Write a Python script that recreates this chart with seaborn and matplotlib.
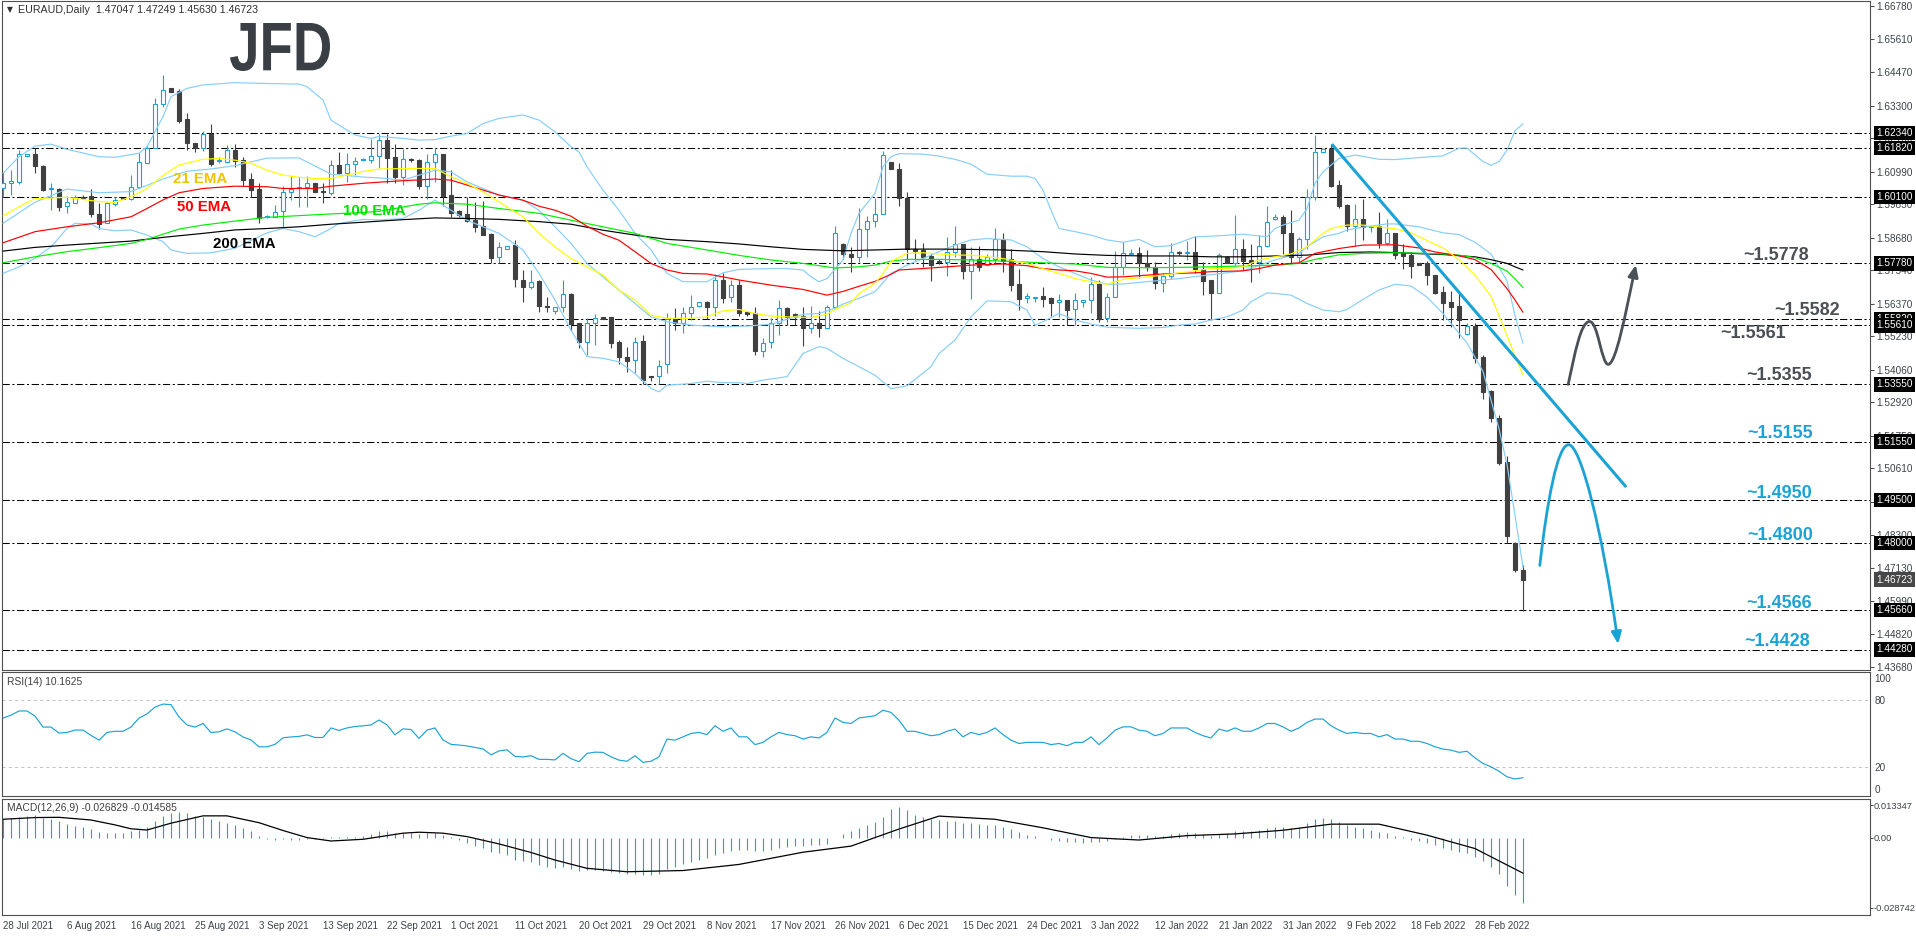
import numpy as np
import matplotlib
matplotlib.use("Agg")
import matplotlib.pyplot as plt
import matplotlib.transforms as mtransforms
from matplotlib.path import Path
from matplotlib.patches import FancyArrowPatch, PathPatch
from matplotlib.textpath import TextPath
from matplotlib.font_manager import FontProperties
import seaborn as sns

# EURAUD daily candles, 28 Jul 2021 .. 7 Mar 2022 (broker feed with Sunday bars)
opens = [1.6043, 1.6058, 1.6064, 1.6154, 1.6159, 1.6118, 1.6037, 1.6039, 1.5979, 1.5990,
         1.6011, 1.6013, 1.5951, 1.5918, 1.5984, 1.6005, 1.6002, 1.6046, 1.6130, 1.6180,
         1.6334, 1.6390, 1.6381, 1.6282, 1.6199, 1.6180, 1.6231, 1.6136, 1.6134, 1.6174,
         1.6139, 1.6073, 1.6038, 1.5940, 1.5941, 1.5961, 1.6029, 1.6040, 1.6046, 1.6058,
         1.6031, 1.6025, 1.6121, 1.6095, 1.6124, 1.6139, 1.6141, 1.6153, 1.6209, 1.6149,
         1.6081, 1.6140, 1.6139, 1.6049, 1.6133, 1.6160, 1.6017, 1.5962, 1.5950, 1.5929,
         1.5908, 1.5880, 1.5799, 1.5827, 1.5842, 1.5720, 1.5694, 1.5716, 1.5630, 1.5612,
         1.5624, 1.5671, 1.5570, 1.5504, 1.5568, 1.5589, 1.5589, 1.5502, 1.5450, 1.5440,
         1.5506, 1.5383, 1.5384, 1.5426, 1.5582, 1.5570, 1.5603, 1.5629, 1.5642, 1.5626,
         1.5720, 1.5659, 1.5702, 1.5607, 1.5603, 1.5473, 1.5502, 1.5570, 1.5621, 1.5600,
         1.5594, 1.5553, 1.5568, 1.5553, 1.5624, 1.5846, 1.5811, 1.5801, 1.5900, 1.5925,
         1.5949, 1.6132, 1.6108, 1.6008, 1.5827, 1.5825, 1.5804, 1.5785, 1.5784, 1.5819,
         1.5846, 1.5752, 1.5792, 1.5773, 1.5795, 1.5863, 1.5792, 1.5706, 1.5656, 1.5656,
         1.5664, 1.5656, 1.5642, 1.5650, 1.5617, 1.5642, 1.5650, 1.5706, 1.5586, 1.5661,
         1.5766, 1.5811, 1.5813, 1.5778, 1.5764, 1.5708, 1.5734, 1.5816, 1.5813, 1.5819,
         1.5760, 1.5720, 1.5675, 1.5799, 1.5778, 1.5827, 1.5790, 1.5784, 1.5840, 1.5932,
         1.5939, 1.5886, 1.5801, 1.5865, 1.6009, 1.6168, 1.6177, 1.6052, 1.5982, 1.5910,
         1.5933, 1.5904, 1.5908, 1.5850, 1.5883, 1.5814, 1.5809, 1.5780, 1.5778, 1.5737,
         1.5677, 1.5642, 1.5629, 1.5530, 1.5559, 1.5452, 1.5333, 1.5236, 1.5085, 1.4800,
         1.47047]
highs = [1.6099, 1.6104, 1.6174, 1.6162, 1.6182, 1.6121, 1.6058, 1.6043, 1.6014, 1.6017,
         1.6017, 1.6037, 1.5990, 1.5994, 1.6011, 1.6008, 1.6087, 1.6165, 1.6192, 1.6355,
         1.6437, 1.6390, 1.6388, 1.6303, 1.6199, 1.6242, 1.6265, 1.6149, 1.6192, 1.6195,
         1.6149, 1.6093, 1.6060, 1.5947, 1.5982, 1.6050, 1.6085, 1.6079, 1.6083, 1.6058,
         1.6058, 1.6139, 1.6168, 1.6165, 1.6151, 1.6145, 1.6212, 1.6232, 1.6229, 1.6197,
         1.6177, 1.6145, 1.6142, 1.6162, 1.6180, 1.6162, 1.6104, 1.5964, 1.6009, 1.5991,
         1.5996, 1.5883, 1.5854, 1.5840, 1.5859, 1.5754, 1.5754, 1.5720, 1.5661, 1.5624,
         1.5720, 1.5673, 1.5570, 1.5586, 1.5600, 1.5591, 1.5591, 1.5510, 1.5484, 1.5519,
         1.5527, 1.5383, 1.5440, 1.5603, 1.5621, 1.5626, 1.5667, 1.5642, 1.5646, 1.5741,
         1.5743, 1.5720, 1.5720, 1.5607, 1.5624, 1.5516, 1.5586, 1.5650, 1.5626, 1.5603,
         1.5626, 1.5629, 1.5612, 1.5632, 1.5908, 1.5850, 1.5836, 1.5973, 1.5943, 1.6008,
         1.6172, 1.6132, 1.6128, 1.6028, 1.5862, 1.5850, 1.5813, 1.5792, 1.5871, 1.5908,
         1.5846, 1.5836, 1.5838, 1.5811, 1.5903, 1.5885, 1.5830, 1.5757, 1.5675, 1.5661,
         1.5694, 1.5661, 1.5671, 1.5650, 1.5675, 1.5650, 1.5729, 1.5720, 1.5675, 1.5822,
         1.5854, 1.5830, 1.5836, 1.5825, 1.5784, 1.5743, 1.5848, 1.5822, 1.5856, 1.5873,
         1.5784, 1.5720, 1.5813, 1.5804, 1.5947, 1.5865, 1.5845, 1.5877, 1.5978, 1.5949,
         1.5947, 1.5964, 1.5871, 1.6037, 1.6227, 1.6177, 1.6197, 1.6069, 1.5984, 1.5984,
         1.6003, 1.5912, 1.5959, 1.5932, 1.5886, 1.5845, 1.5818, 1.5780, 1.5787, 1.5737,
         1.5699, 1.5682, 1.5676, 1.5571, 1.5571, 1.5458, 1.5335, 1.5248, 1.5105, 1.4805,
         1.47249]
lows = [1.6011, 1.6017, 1.6055, 1.6151, 1.6095, 1.6032, 1.5965, 1.5962, 1.5953, 1.5988,
        1.6005, 1.5941, 1.5900, 1.5918, 1.5979, 1.6002, 1.6000, 1.6040, 1.6128, 1.6180,
        1.6326, 1.6378, 1.6270, 1.6174, 1.6168, 1.6172, 1.6118, 1.6128, 1.6128, 1.6114,
        1.6048, 1.6009, 1.5920, 1.5938, 1.5941, 1.5906, 1.6000, 1.5976, 1.5974, 1.6029,
        1.5990, 1.6017, 1.6093, 1.6064, 1.6087, 1.6137, 1.6130, 1.6110, 1.6058, 1.6058,
        1.6052, 1.6132, 1.6037, 1.6002, 1.6063, 1.5978, 1.5939, 1.5939, 1.5924, 1.5889,
        1.5877, 1.5778, 1.5778, 1.5827, 1.5694, 1.5644, 1.5687, 1.5609, 1.5609, 1.5601,
        1.5609, 1.5543, 1.5481, 1.5457, 1.5492, 1.5582, 1.5481, 1.5428, 1.5399, 1.5396,
        1.5356, 1.5368, 1.5356, 1.5396, 1.5545, 1.5533, 1.5580, 1.5624, 1.5582, 1.5594,
        1.5638, 1.5644, 1.5594, 1.5594, 1.5457, 1.5449, 1.5481, 1.5527, 1.5562, 1.5562,
        1.5489, 1.5533, 1.5522, 1.5551, 1.5617, 1.5795, 1.5749, 1.5784, 1.5799, 1.5906,
        1.5949, 1.6107, 1.5978, 1.5790, 1.5790, 1.5766, 1.5717, 1.5776, 1.5735, 1.5799,
        1.5723, 1.5653, 1.5752, 1.5773, 1.5778, 1.5749, 1.5682, 1.5615, 1.5638, 1.5644,
        1.5626, 1.5594, 1.5591, 1.5561, 1.5561, 1.5626, 1.5605, 1.5574, 1.5574, 1.5659,
        1.5737, 1.5807, 1.5728, 1.5752, 1.5690, 1.5679, 1.5725, 1.5807, 1.5790, 1.5745,
        1.5667, 1.5580, 1.5673, 1.5778, 1.5772, 1.5755, 1.5714, 1.5743, 1.5836, 1.5929,
        1.5811, 1.5776, 1.5778, 1.5830, 1.5999, 1.6168, 1.6044, 1.5970, 1.5891, 1.5839,
        1.5859, 1.5889, 1.5833, 1.5842, 1.5792, 1.5758, 1.5728, 1.5771, 1.5704, 1.5670,
        1.5580, 1.5554, 1.5516, 1.5528, 1.5431, 1.5303, 1.5225, 1.5073, 1.4799, 1.4700,
        1.45630]
closes = [1.6058, 1.6065, 1.6159, 1.6159, 1.6120, 1.6035, 1.6039, 1.5976, 1.5991, 1.6011,
          1.6008, 1.5949, 1.5916, 1.5988, 1.5998, 1.6002, 1.6046, 1.6131, 1.6180, 1.6334,
          1.6386, 1.6379, 1.6276, 1.6198, 1.6180, 1.6230, 1.6127, 1.6138, 1.6174, 1.6137,
          1.6069, 1.6035, 1.5938, 1.5942, 1.5959, 1.6029, 1.6039, 1.6046, 1.6060, 1.6029,
          1.6026, 1.6121, 1.6095, 1.6124, 1.6135, 1.6143, 1.6154, 1.6209, 1.6147, 1.6081,
          1.6142, 1.6138, 1.6048, 1.6133, 1.6160, 1.6013, 1.5955, 1.5947, 1.5927, 1.5906,
          1.5877, 1.5798, 1.5834, 1.5840, 1.5722, 1.5696, 1.5714, 1.5630, 1.5626, 1.5624,
          1.5671, 1.5566, 1.5504, 1.5568, 1.5586, 1.5585, 1.5501, 1.5449, 1.5438, 1.5504,
          1.5372, 1.5380, 1.5420, 1.5582, 1.5570, 1.5603, 1.5626, 1.5642, 1.5624, 1.5720,
          1.5656, 1.5702, 1.5603, 1.5601, 1.5473, 1.5501, 1.5570, 1.5621, 1.5591, 1.5591,
          1.5553, 1.5568, 1.5553, 1.5624, 1.5883, 1.5811, 1.5801, 1.5900, 1.5925, 1.5949,
          1.6157, 1.6107, 1.6005, 1.5827, 1.5823, 1.5801, 1.5772, 1.5783, 1.5819, 1.5846,
          1.5752, 1.5792, 1.5766, 1.5799, 1.5863, 1.5787, 1.5704, 1.5653, 1.5665, 1.5661,
          1.5654, 1.5640, 1.5650, 1.5615, 1.5650, 1.5650, 1.5706, 1.5583, 1.5661, 1.5766,
          1.5816, 1.5816, 1.5778, 1.5764, 1.5708, 1.5734, 1.5819, 1.5813, 1.5819, 1.5760,
          1.5717, 1.5675, 1.5809, 1.5778, 1.5827, 1.5787, 1.5784, 1.5840, 1.5924, 1.5939,
          1.5885, 1.5801, 1.5865, 1.6009, 1.6168, 1.6177, 1.6048, 1.5978, 1.5910, 1.5932,
          1.5906, 1.5906, 1.5850, 1.5883, 1.5809, 1.5805, 1.5768, 1.5774, 1.5737, 1.5673,
          1.5641, 1.5627, 1.5580, 1.5559, 1.5448, 1.5330, 1.5236, 1.5081, 1.4825, 1.4706,
          1.46723]

# moving averages and Bollinger bands at bar positions
ema21_idx = [0, 2, 4, 8, 12, 14, 16, 18, 20, 22, 25, 27, 29, 31, 33, 35, 37, 39, 41, 43, 45, 47, 51, 54,
             56, 58, 60, 62, 65, 67, 69, 71, 73, 75, 77, 79, 81, 83, 86, 88, 90, 92, 94, 96, 98, 101, 103,
             104, 106, 107, 109, 110, 111, 113, 115, 117, 119, 121, 123, 125, 128, 130, 132, 134, 136, 138,
             140, 143, 145, 147, 149, 151, 153, 155, 157, 159, 161, 163, 165, 166, 168, 170, 172, 174, 176,
             178, 180, 182, 184, 186, 187, 188, 189, 190]
ema21_val = [1.5944, 1.5976, 1.6005, 1.6009, 1.5994, 1.5991, 1.6011, 1.6040, 1.6085, 1.6122, 1.6142, 1.6145,
             1.6139, 1.6128, 1.6104, 1.6087, 1.6079, 1.6075, 1.6075, 1.6087, 1.6099, 1.6108, 1.6110, 1.6110,
             1.6081, 1.6058, 1.6028, 1.5993, 1.5941, 1.5883, 1.5836, 1.5795, 1.5766, 1.5737, 1.5685, 1.5650,
             1.5597, 1.5586, 1.5586, 1.5591, 1.5612, 1.5617, 1.5603, 1.5594, 1.5591, 1.5589, 1.5600, 1.5617,
             1.5640, 1.5673, 1.5708, 1.5743, 1.5785, 1.5813, 1.5815, 1.5811, 1.5807, 1.5807, 1.5801, 1.5795,
             1.5778, 1.5760, 1.5743, 1.5725, 1.5714, 1.5705, 1.5722, 1.5731, 1.5737, 1.5745, 1.5752, 1.5760,
             1.5760, 1.5766, 1.5790, 1.5801, 1.5811, 1.5836, 1.5883, 1.5900, 1.5912, 1.5912, 1.5906, 1.5899,
             1.5885, 1.5858, 1.5832, 1.5791, 1.5737, 1.5663, 1.5596, 1.5525, 1.5455, 1.5388]
ema50_idx = [0, 4, 8, 12, 16, 18, 20, 22, 25, 29, 33, 35, 39, 41, 45, 47, 50, 54, 56, 58, 62, 65, 67, 69,
             71, 73, 75, 77, 79, 81, 83, 85, 88, 90, 92, 96, 100, 103, 105, 107, 109, 111, 112, 115, 117, 121,
             125, 128, 130, 132, 134, 136, 138, 140, 143, 145, 147, 149, 151, 155, 157, 159, 161, 162, 164,
             167, 170, 174, 177, 179, 182, 184, 186, 188, 189, 190]
ema50_val = [1.5850, 1.5889, 1.5906, 1.5920, 1.5941, 1.5970, 1.6000, 1.6025, 1.6040, 1.6048, 1.6046, 1.6040,
             1.6040, 1.6048, 1.6058, 1.6062, 1.6067, 1.6073, 1.6069, 1.6052, 1.6017, 1.5999, 1.5978, 1.5964,
             1.5943, 1.5908, 1.5880, 1.5859, 1.5819, 1.5778, 1.5755, 1.5743, 1.5741, 1.5731, 1.5720, 1.5702,
             1.5687, 1.5667, 1.5680, 1.5698, 1.5715, 1.5740, 1.5755, 1.5760, 1.5764, 1.5772, 1.5776, 1.5770,
             1.5760, 1.5755, 1.5752, 1.5743, 1.5730, 1.5731, 1.5737, 1.5741, 1.5743, 1.5745, 1.5749, 1.5752,
             1.5760, 1.5772, 1.5778, 1.5780, 1.5813, 1.5830, 1.5842, 1.5843, 1.5832, 1.5818, 1.5805, 1.5791,
             1.5757, 1.5690, 1.5650, 1.5607]
ema100_idx = [0, 4, 8, 12, 16, 18, 20, 22, 25, 29, 33, 37, 41, 45, 47, 50, 52, 54, 58, 62, 67, 71, 75, 79,
              83, 88, 92, 96, 100, 104, 107, 109, 111, 113, 117, 121, 125, 130, 134, 138, 143, 147, 151, 155,
              159, 162, 164, 167, 170, 174, 177, 180, 182, 184, 186, 188, 189, 190]
ema100_val = [1.5780, 1.5801, 1.5819, 1.5833, 1.5848, 1.5862, 1.5880, 1.5898, 1.5912, 1.5926, 1.5939, 1.5945,
              1.5951, 1.5956, 1.5960, 1.5975, 1.5985, 1.5990, 1.5985, 1.5970, 1.5953, 1.5929, 1.5906, 1.5883,
              1.5848, 1.5825, 1.5806, 1.5790, 1.5778, 1.5762, 1.5766, 1.5772, 1.5786, 1.5792, 1.5792, 1.5790,
              1.5786, 1.5780, 1.5776, 1.5764, 1.5763, 1.5764, 1.5766, 1.5769, 1.5772, 1.5778, 1.5792, 1.5808,
              1.5813, 1.5815, 1.5814, 1.5811, 1.5807, 1.5798, 1.5778, 1.5751, 1.5724, 1.5693]
ema200_idx = [0, 4, 8, 12, 16, 20, 25, 29, 33, 37, 41, 45, 50, 54, 58, 62, 67, 71, 75, 79, 83, 88, 92, 96,
              100, 105, 109, 113, 117, 121, 125, 130, 134, 138, 143, 147, 151, 155, 159, 163, 167, 171, 174,
              177, 180, 182, 184, 186, 188, 189, 190]
ema200_val = [1.5821, 1.5834, 1.5842, 1.5849, 1.5856, 1.5869, 1.5883, 1.5895, 1.5900, 1.5906, 1.5915, 1.5922,
              1.5931, 1.5937, 1.5935, 1.5932, 1.5924, 1.5915, 1.5894, 1.5877, 1.5862, 1.5854, 1.5846, 1.5836,
              1.5827, 1.5822, 1.5825, 1.5828, 1.5828, 1.5827, 1.5825, 1.5819, 1.5811, 1.5806, 1.5804, 1.5804,
              1.5801, 1.5801, 1.5804, 1.5807, 1.5816, 1.5818, 1.5816, 1.5812, 1.5809, 1.5805, 1.5801, 1.5791,
              1.5778, 1.5766, 1.5755]
bb_up_idx = [0, 2, 4, 6, 8, 12, 14, 17, 18, 20, 21, 23, 25, 29, 33, 37, 38, 40, 41, 43, 44, 46, 47, 50, 52,
             54, 56, 58, 60, 62, 65, 67, 69, 71, 72, 73, 75, 77, 79, 81, 83, 85, 88, 90, 92, 96, 98, 100, 101,
             102, 103, 105, 106, 107, 109, 110, 111, 112, 115, 117, 119, 121, 123, 126, 128, 129, 130, 131,
             132, 134, 136, 138, 140, 142, 144, 146, 147, 149, 151, 155, 158, 159, 160, 162, 163, 164, 165,
             167, 169, 172, 174, 177, 180, 182, 183, 185, 186, 187, 188, 189, 190]
bb_up_val = [1.6093, 1.6151, 1.6188, 1.6195, 1.6177, 1.6151, 1.6149, 1.6163, 1.6186, 1.6291, 1.6361, 1.6390,
             1.6402, 1.6410, 1.6407, 1.6405, 1.6396, 1.6349, 1.6279, 1.6244, 1.6227, 1.6215, 1.6222, 1.6215,
             1.6209, 1.6211, 1.6223, 1.6232, 1.6267, 1.6285, 1.6297, 1.6279, 1.6238, 1.6186, 1.6168, 1.6116,
             1.6034, 1.5964, 1.5883, 1.5825, 1.5743, 1.5714, 1.5714, 1.5745, 1.5757, 1.5760, 1.5760, 1.5755,
             1.5731, 1.5714, 1.5725, 1.5790, 1.5883, 1.5953, 1.6023, 1.6116, 1.6151, 1.6162, 1.6160, 1.6153,
             1.6142, 1.6125, 1.6090, 1.6083, 1.6083, 1.6075, 1.6034, 1.5964, 1.5900, 1.5889, 1.5877, 1.5860,
             1.5852, 1.5862, 1.5836, 1.5840, 1.5850, 1.5871, 1.5873, 1.5880, 1.5871, 1.5900, 1.5912, 1.5929,
             1.5970, 1.6058, 1.6098, 1.6145, 1.6157, 1.6142, 1.6141, 1.6148, 1.6154, 1.6181, 1.6181, 1.6134,
             1.6121, 1.6134, 1.6174, 1.6242, 1.6266]
bb_mid_idx = [0, 4, 8, 12, 16, 20, 23, 26, 29, 33, 37, 41, 45, 47, 50, 54, 56, 58, 60, 62, 65, 67, 69, 71,
              73, 75, 77, 79, 81, 83, 86, 90, 93, 96, 100, 102, 104, 105, 107, 109, 111, 113, 115, 117, 119,
              121, 123, 126, 128, 130, 132, 134, 136, 138, 140, 147, 155, 159, 162, 163, 165, 167, 168, 171,
              173, 174, 177, 180, 182, 184, 186, 188, 189, 190]
bb_mid_val = [1.5918, 1.5992, 1.6038, 1.6025, 1.6029, 1.6073, 1.6100, 1.6108, 1.6120, 1.6146, 1.6147, 1.6090,
              1.6080, 1.6077, 1.6069, 1.6104, 1.6098, 1.6063, 1.6040, 1.6017, 1.5999, 1.5964, 1.5906, 1.5848,
              1.5778, 1.5731, 1.5685, 1.5638, 1.5591, 1.5574, 1.5562, 1.5556, 1.5559, 1.5565, 1.5600, 1.5603,
              1.5621, 1.5636, 1.5656, 1.5679, 1.5743, 1.5772, 1.5795, 1.5819, 1.5842, 1.5860, 1.5865, 1.5860,
              1.5836, 1.5795, 1.5766, 1.5743, 1.5720, 1.5705, 1.5706, 1.5725, 1.5752, 1.5790, 1.5813, 1.5836,
              1.5871, 1.5883, 1.5895, 1.5909, 1.5916, 1.5916, 1.5906, 1.5885, 1.5879, 1.5852, 1.5811, 1.5717,
              1.5596, 1.5499]
bb_low_idx = [0, 2, 4, 6, 8, 9, 11, 12, 14, 16, 18, 20, 21, 23, 26, 29, 33, 35, 37, 39, 41, 42, 45, 47, 50,
              52, 54, 56, 58, 62, 65, 67, 69, 71, 73, 75, 77, 79, 81, 82, 83, 86, 88, 90, 92, 93, 95, 98, 100,
              102, 103, 105, 107, 109, 111, 113, 114, 116, 117, 119, 121, 123, 126, 128, 129, 130, 132, 134,
              136, 138, 140, 142, 145, 147, 149, 151, 153, 155, 156, 158, 159, 161, 163, 165, 167, 168, 170,
              172, 174, 176, 178, 180, 181, 183, 185, 186, 187, 188, 189, 190]
bb_low_val = [1.5743, 1.5766, 1.5796, 1.5836, 1.5900, 1.5918, 1.5916, 1.5900, 1.5892, 1.5895, 1.5877, 1.5854,
              1.5825, 1.5813, 1.5815, 1.5831, 1.5885, 1.5900, 1.5889, 1.5871, 1.5900, 1.5918, 1.5932, 1.5930,
              1.5935, 1.5964, 1.5999, 1.5964, 1.5929, 1.5883, 1.5825, 1.5743, 1.5650, 1.5545, 1.5452, 1.5446,
              1.5434, 1.5393, 1.5341, 1.5329, 1.5352, 1.5358, 1.5366, 1.5361, 1.5361, 1.5358, 1.5370, 1.5382,
              1.5463, 1.5487, 1.5481, 1.5446, 1.5417, 1.5387, 1.5340, 1.5350, 1.5372, 1.5417, 1.5463, 1.5510,
              1.5591, 1.5647, 1.5644, 1.5615, 1.5562, 1.5574, 1.5603, 1.5580, 1.5566, 1.5555, 1.5553, 1.5551,
              1.5554, 1.5562, 1.5566, 1.5580, 1.5591, 1.5615, 1.5644, 1.5675, 1.5673, 1.5667, 1.5638, 1.5615,
              1.5609, 1.5617, 1.5652, 1.5685, 1.5705, 1.5699, 1.5660, 1.5603, 1.5568, 1.5500, 1.5400, 1.5300,
              1.5200, 1.5075, 1.4897, 1.4715]

rsi_vals = [63.9, 66.5, 70.3, 70.3, 65.7, 55.8, 55.8, 50.4, 50.9, 53.1,
            53.1, 48.3, 44.0, 50.9, 52.0, 52.0, 55.8, 63.9, 67.6, 73.8,
            76.5, 76.0, 64.9, 57.7, 55.8, 59.0, 50.9, 51.5, 54.2, 51.5,
            46.9, 44.2, 38.0, 38.0, 40.2, 46.1, 46.9, 47.4, 48.8, 46.4,
            46.4, 55.0, 52.8, 55.0, 56.3, 56.9, 57.7, 62.2, 57.7, 48.8,
            54.2, 53.6, 45.6, 53.1, 55.0, 44.2, 40.2, 39.6, 38.8, 37.5,
            36.1, 30.8, 34.3, 35.3, 29.4, 28.9, 30.0, 26.7, 26.7, 26.2,
            32.1, 27.3, 24.6, 32.1, 33.2, 33, 29, 26, 25, 30,
            24, 25, 29, 45, 44, 47, 50, 51, 49, 57,
            52, 55, 47, 47, 40, 42, 47, 51, 49, 48,
            45, 47, 46, 51, 64, 60, 59, 64, 65, 66,
            71, 69, 62, 52, 52, 50, 48, 49, 52, 54,
            47, 51, 49, 51, 55, 49, 44, 41, 42, 42,
            42, 40, 41, 39, 42, 42, 47, 40, 46, 53,
            56, 56, 53, 52, 48, 50, 55, 55, 55, 51,
            48, 46, 54, 52, 55, 52, 52, 55, 59, 59,
            56, 52, 55, 60, 63, 63, 57, 53, 50, 51,
            50, 50, 47, 49, 45, 45, 43, 43, 41, 38,
            36, 35, 33, 34, 28, 23, 20, 16, 11, 9,
            10.16]

macd_hist = [0.0075, 0.0079, 0.0086, 0.0089, 0.0093, 0.0082, 0.0077, 0.0066, 0.0056, 0.0049,
             0.0042, 0.0034, 0.0023, 0.0020, 0.0020, 0.0020, 0.0025, 0.0031, 0.0045, 0.0066,
             0.0090, 0.0102, 0.0105, 0.0100, 0.0090, 0.0086, 0.0077, 0.0066, 0.0061, 0.0052,
             0.0041, 0.0027, 0.0007, -0.0007, -0.0010, -0.0007, -0.0010, -0.0010, -0.0007, -0.0005,
             -0.0005, 0.0004, 0.0004, 0.0004, 0.0004, 0.0007, 0.0015, 0.0025, 0.0027, 0.0020,
             0.0020, 0.0020, 0.0015, 0.0018, 0.0020, 0.0011, 0.0001, -0.0010, -0.0023, -0.0034,
             -0.0044, -0.0061, -0.0064, -0.0071, -0.0092, -0.0098, -0.0102, -0.0112, -0.0122, -0.0126,
             -0.0122, -0.0130, -0.0135, -0.0133, -0.0133, -0.0135, -0.0140, -0.0145, -0.0150, -0.0150,
             -0.0155, -0.0155, -0.0150, -0.0130, -0.0120, -0.0110, -0.0100, -0.0090, -0.0085, -0.0070,
             -0.0062, -0.0055, -0.0052, -0.0050, -0.0055, -0.0055, -0.0050, -0.0042, -0.0038, -0.0035,
             -0.0034, -0.0032, -0.0030, -0.0025, 0.0000, 0.0015, 0.0025, 0.0040, 0.0052, 0.0065,
             0.0085, 0.0118, 0.0125, 0.0115, 0.0092, 0.0085, 0.0078, 0.0072, 0.0068, 0.0066,
             0.0060, 0.0058, 0.0055, 0.0052, 0.0052, 0.0045, 0.0035, 0.0022, 0.0012, 0.0005,
             -0.0002, -0.0008, -0.0012, -0.0018, -0.0020, -0.0022, -0.0018, -0.0020, -0.0015, -0.0005,
             0.0003, 0.0010, 0.0012, 0.0012, 0.0008, 0.0008, 0.0015, 0.0018, 0.0022, 0.0020,
             0.0015, 0.0008, 0.0015, 0.0018, 0.0025, 0.0025, 0.0025, 0.0030, 0.0040, 0.0045,
             0.0045, 0.0040, 0.0045, 0.0060, 0.0078, 0.0080, 0.0075, 0.0065, 0.0052, 0.0045,
             0.0038, 0.0032, 0.0022, 0.0018, 0.0008, 0.0002, -0.0008, -0.0015, -0.0022, -0.0032,
             -0.0042, -0.0050, -0.0058, -0.0062, -0.0078, -0.0098, -0.0120, -0.0150, -0.0200, -0.0235,
             -0.026829]
signal_idx = [0, 4, 7, 11, 14, 16, 18, 21, 25, 28, 32, 35, 38, 41, 45, 50, 52, 55, 58, 62, 66, 69, 73, 78,
              85, 92, 100, 106, 112, 117, 124, 130, 136, 142, 148, 154, 160, 166, 172, 178, 184, 190]
signal_val = [0.0075, 0.0082, 0.0083, 0.0072, 0.0052, 0.0036, 0.0031, 0.0059, 0.0089, 0.0089, 0.0061,
              0.0029, 0.0000, -0.0014, -0.0007, 0.0018, 0.0022, 0.0018, 0.0004, -0.0026, -0.0061, -0.0092,
              -0.0126, -0.0140, -0.0135, -0.0110, -0.0060, -0.0035, 0.0035, 0.0088, 0.0075, 0.0040, 0.0000,
              -0.0010, 0.0008, 0.0015, 0.0030, 0.0055, 0.0055, 0.0010, -0.0045, -0.014585]

levels = [1.6234, 1.6182, 1.6010, 1.5778, 1.5582, 1.5561, 1.5355, 1.5155, 1.4950, 1.4800, 1.4566, 1.4428]
price_ticks = [1.6678, 1.6561, 1.6447, 1.6330, 1.6216, 1.6099, 1.5985, 1.5868, 1.5754, 1.5637, 1.5523,
               1.5406, 1.5292, 1.5175, 1.5061, 1.4944, 1.4830, 1.4713, 1.4599, 1.4482, 1.4368]
last_price = 1.46723
date_labels = ["28 Jul 2021", "6 Aug 2021", "16 Aug 2021", "25 Aug 2021", "3 Sep 2021", "13 Sep 2021",
               "22 Sep 2021", "1 Oct 2021", "11 Oct 2021", "20 Oct 2021", "29 Oct 2021", "8 Nov 2021",
               "17 Nov 2021", "26 Nov 2021", "6 Dec 2021", "15 Dec 2021", "24 Dec 2021", "3 Jan 2022",
               "12 Jan 2022", "21 Jan 2022", "31 Jan 2022", "9 Feb 2022", "18 Feb 2022", "28 Feb 2022"]

# ---------------------------------------------------------------- styling
sns.set_style("white")
plt.rcParams["font.family"] = ["Liberation Sans", "DejaVu Sans"]

CYAN = "#1ca3d6"
BEAR = "#404040"
GRAY_TXT = "#4b5056"
AXC = "#505050"

W, H = 1916, 936
fig = plt.figure(figsize=(W / 100, H / 100), dpi=100)


def panel(top, bottom, left=2, right=1870):
    return fig.add_axes([left / W, 1 - bottom / H, (right - left) / W, (bottom - top) / H])


ax = panel(1, 670)
ax_rsi = panel(672, 796)
ax_macd = panel(799, 915)

xlim = ((2 - 3) / 8, (1870 - 3) / 8)
for a in (ax, ax_rsi, ax_macd):
    a.set_xlim(*xlim)
    for s in a.spines.values():
        s.set_color(AXC)
        s.set_linewidth(0.8)
    a.yaxis.tick_right()
    a.set_xticks([])

ax.set_ylim(1.6678 - 664 / 2860, 1.6678 + 5 / 2860)
ax_rsi.set_ylim(-6.3, 105.4)
ax_macd.set_ylim(-0.031721, 0.015806)

# ---------------------------------------------------------------- main panel
idx = np.arange(len(closes))
o, h, l, c = map(np.array, (opens, highs, lows, closes))
up = c >= o
min_body = 1.0 / 2860

for lv in levels:
    ax.axhline(lv, color="black", lw=0.75, ls=(0, (7, 2.5, 2, 2.5)), zorder=1)

ax.vlines(idx[up], l[up], h[up], color=CYAN, lw=0.8, zorder=3)
ax.vlines(idx[~up], l[~up], h[~up], color=BEAR, lw=0.8, zorder=3)
ax.bar(idx[up], np.maximum(c - o, min_body)[up], bottom=o[up], width=0.5,
       facecolor="white", edgecolor=CYAN, linewidth=0.8, zorder=4)
ax.bar(idx[~up], np.maximum(o - c, min_body)[~up], bottom=c[~up], width=0.5,
       facecolor=BEAR, edgecolor=BEAR, linewidth=0.8, zorder=4)

BB = "#87cefa"
for xs, ys, col in [(bb_up_idx, bb_up_val, BB), (bb_mid_idx, bb_mid_val, BB), (bb_low_idx, bb_low_val, BB),
                    (ema200_idx, ema200_val, "black"), (ema100_idx, ema100_val, "#00ee00"),
                    (ema50_idx, ema50_val, "#ff0000"), (ema21_idx, ema21_val, "#ffff00")]:
    sns.lineplot(x=xs, y=ys, ax=ax, color=col, linewidth=0.85, zorder=5)

# trend line and projection arrows
ax.plot([166.1, 202.9], [1.6195, 1.4996], color=CYAN, lw=2.2, zorder=8, solid_capstyle="butt")


def curve(points, color):
    codes = [Path.MOVETO] + [Path.CURVE4] * (len(points) - 1)
    arr = FancyArrowPatch(path=Path(points, codes), arrowstyle="-|>,head_length=7,head_width=3",
                          color=color, lw=2.0, zorder=9)
    ax.add_patch(arr)


curve([(195.65, 1.5355), (196.5, 1.5465), (197.2, 1.5572), (198.3, 1.5575),
       (199.4, 1.5575), (199.8, 1.5425), (200.65, 1.5425),
       (201.6, 1.5425), (202.8, 1.5599), (204.1, 1.5773)], "#4b5158")
curve([(192.1, 1.4722), (193.0, 1.4943), (194.3, 1.5144), (195.7, 1.5144),
       (197.2, 1.5144), (199.9, 1.4849), (201.9, 1.4447)], CYAN)

# right price scale
ax.set_yticks(price_ticks)
ax.set_yticklabels([f"{t:.5f}" for t in price_ticks])
ax.tick_params(axis="y", length=3, width=0.75, color=AXC, labelsize=7.2, labelcolor="#3d434a", pad=1.5)
trans = mtransforms.blended_transform_factory(ax.transAxes, ax.transData)
for lv in levels:
    ax.text(1.0032, lv, f"{lv:.5f}", transform=trans, ha="left", va="center", fontsize=7.2,
            color="white", bbox=dict(boxstyle="square,pad=0.22", fc="black", ec="none"),
            clip_on=False, zorder=10)
ax.text(1.0032, last_price, f"{last_price:.5f}", transform=trans, ha="left", va="center", fontsize=7.2,
        color="white", bbox=dict(boxstyle="square,pad=0.22", fc="#474747", ec="none"),
        clip_on=False, zorder=10)

# ---------------------------------------------------------------- RSI
for lv in (80, 20):
    ax_rsi.axhline(lv, color="#c4c4c4", lw=0.75, ls=(0, (3, 3)))
sns.lineplot(x=idx, y=rsi_vals, ax=ax_rsi, color=CYAN, linewidth=0.85)
ax_rsi.set_yticks([100, 80, 20, 0])
ax_rsi.set_yticklabels(["100", "80", "20", "0"])
ax_rsi.tick_params(axis="y", length=0, labelsize=7.2, labelcolor="#3d434a", pad=3)

# ---------------------------------------------------------------- MACD
ax_macd.vlines(idx, 0, macd_hist, color=CYAN, lw=0.8)
sns.lineplot(x=signal_idx, y=signal_val, ax=ax_macd, color="black", linewidth=0.9)
ax_macd.set_yticks([0.013347, 0.0, -0.028742])
ax_macd.set_yticklabels(["0.013347", "0.00", "-0.028742"])
ax_macd.tick_params(axis="y", length=2, width=0.75, color=AXC, labelsize=6.7, labelcolor="#3d434a", pad=0.8)
ax_macd.set_xticks(np.arange(len(date_labels)) * 8)
ax_macd.set_xticklabels(date_labels, ha="left")
ax_macd.tick_params(axis="x", length=3, width=0.75, color=AXC, labelsize=7, labelcolor="#3d434a", pad=1)
for a in (ax, ax_rsi, ax_macd):
    a.set_xlabel("")
    a.set_ylabel("")


# ---------------------------------------------------------------- texts
def ftext(x, y, s, **kw):
    fig.text(x / W, 1 - y / H, s, **kw)


ftext(7, 10, "\u25bc", fontsize=5.5, color="#303030", va="center", family="DejaVu Sans")
ftext(18, 10, "EURAUD,Daily  1.47047 1.47249 1.45630 1.46723", fontsize=7.7, color="#303030", va="center")
ftext(7, 682, "RSI(14) 10.1625", fontsize=7.4, color="#404040", va="center")
ftext(7, 808, "MACD(12,26,9) -0.026829 -0.014585", fontsize=7.4, color="#404040", va="center")

bold = dict(fontweight="bold", va="center", ha="left")
ftext(173, 179, "21 EMA", fontsize=10.8, color="#f2c200", **bold)
ftext(177, 207, "50 EMA", fontsize=10.8, color="#ff0000", **bold)
ftext(343, 211, "100 EMA", fontsize=10.8, color="#00e000", **bold)
ftext(213, 244, "200 EMA", fontsize=10.8, color="black", **bold)

for s, x, y, col in [("~1.5778", 1743, 256, GRAY_TXT), ("~1.5582", 1774, 311, GRAY_TXT),
                     ("~1.5561", 1720, 333, GRAY_TXT), ("~1.5355", 1746, 376, GRAY_TXT),
                     ("~1.5155", 1747, 434, CYAN), ("~1.4950", 1746, 493, CYAN),
                     ("~1.4800", 1747, 536, CYAN), ("~1.4566", 1746, 603, CYAN),
                     ("~1.4428", 1744, 641, CYAN)]:
    ftext(x, y, s, fontsize=13, color=col, **bold)

# JFD logo, squeezed into its box
tp = TextPath((0, 0), "JFD", size=100, prop=FontProperties(family="Liberation Sans", weight="bold"))
ext = tp.get_extents()
tr = (mtransforms.Affine2D().translate(-ext.x0, -ext.y0)
      .scale(100 / ext.width, 48 / ext.height).translate(230, H - 71))
fig.add_artist(PathPatch(tr.transform_path(tp), facecolor="#3a3f45", edgecolor="none",
                         transform=mtransforms.IdentityTransform()))

fig.savefig("out.png", dpi=100)
